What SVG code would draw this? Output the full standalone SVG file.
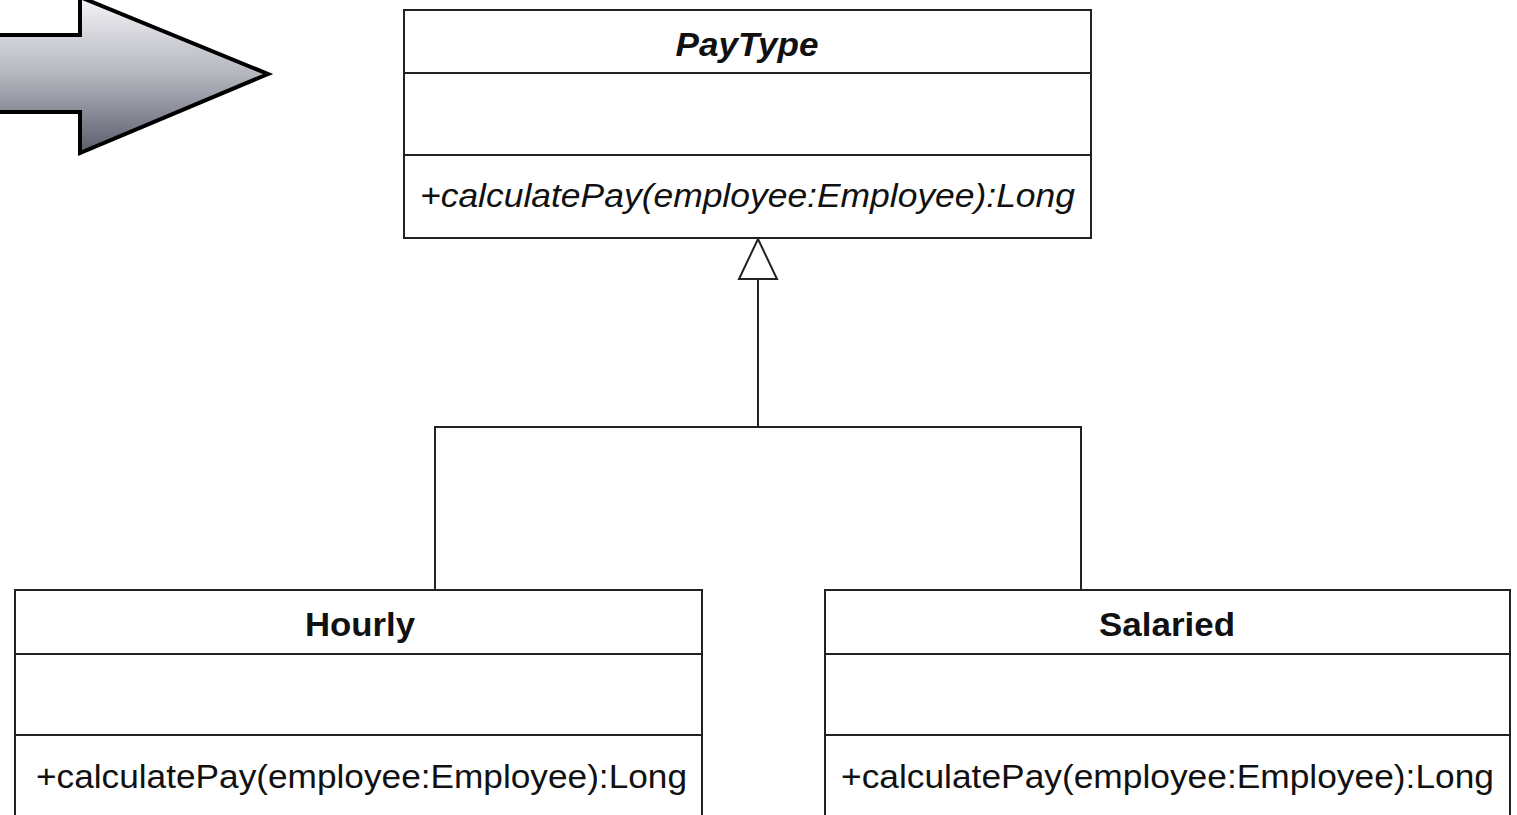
<svg xmlns="http://www.w3.org/2000/svg" width="1517" height="815" viewBox="0 0 1517 815">
<style>
.box{fill:#fff;stroke:#222;stroke-width:2}
.sep{stroke:#222;stroke-width:2}
.conn{fill:none;stroke:#222;stroke-width:2}
.t{font-family:"Liberation Sans",Arial,sans-serif;font-size:33px;fill:#111}
.title{font-weight:bold;text-anchor:middle}
.abs{font-style:italic}
</style>
<defs>
<linearGradient id="g" x1="0" y1="0" x2="0" y2="1">
<stop offset="0" stop-color="#f4f4f8"/>
<stop offset="0.5" stop-color="#b4b6be"/>
<stop offset="1" stop-color="#5a5d6c"/>
</linearGradient>
</defs>
<g id="bigArrow">
<polygon points="-6,35 80,35 80,-3 268,74 80,153 80,112 -6,112" fill="url(#g)" stroke="#000" stroke-width="4" stroke-linejoin="miter"/>
</g>
<g id="connectors">
<polyline class="conn" points="435,590 435,427 1081,427 1081,590"/>
<line class="conn" x1="758" y1="427" x2="758" y2="279"/>
<polygon points="758,239 739,279 777,279" fill="#fff" stroke="#222" stroke-width="2"/>
</g>
<g id="PayType">
<rect class="box" x="404" y="10" width="687" height="228"/>
<line class="sep" x1="404" y1="73" x2="1091" y2="73"/>
<line class="sep" x1="404" y1="155" x2="1091" y2="155"/>
<text class="t title abs" x="747" y="56" textLength="143" lengthAdjust="spacingAndGlyphs">PayType</text>
<text class="t abs" x="420" y="207" textLength="655" lengthAdjust="spacingAndGlyphs">+calculatePay(employee:Employee):Long</text>
</g>
<g id="Hourly">
<rect class="box" x="15" y="590" width="687" height="240"/>
<line class="sep" x1="15" y1="654" x2="702" y2="654"/>
<line class="sep" x1="15" y1="735" x2="702" y2="735"/>
<text class="t title" x="360" y="636" textLength="110" lengthAdjust="spacingAndGlyphs">Hourly</text>
<text class="t" x="36" y="788" textLength="651" lengthAdjust="spacingAndGlyphs">+calculatePay(employee:Employee):Long</text>
</g>
<g id="Salaried">
<rect class="box" x="825" y="590" width="685" height="240"/>
<line class="sep" x1="825" y1="654" x2="1510" y2="654"/>
<line class="sep" x1="825" y1="735" x2="1510" y2="735"/>
<text class="t title" x="1167" y="636" textLength="136" lengthAdjust="spacingAndGlyphs">Salaried</text>
<text class="t" x="841" y="788" textLength="653" lengthAdjust="spacingAndGlyphs">+calculatePay(employee:Employee):Long</text>
</g>
</svg>
